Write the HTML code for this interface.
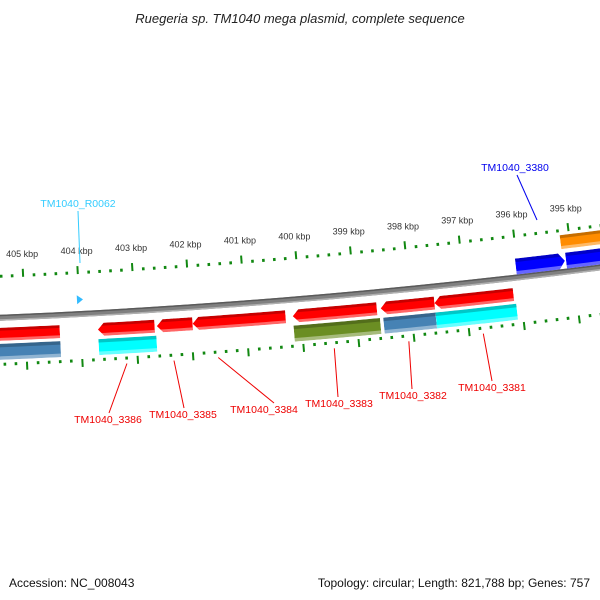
<!DOCTYPE html>
<html><head><meta charset="utf-8"><style>
html,body{margin:0;padding:0;background:#fff}
svg{display:block;font-family:"Liberation Sans","DejaVu Sans",sans-serif}
</style></head><body>
<svg id="map" width="600" height="600" viewBox="0 0 600 600">
<text x="300" y="23" text-anchor="middle" font-size="13" font-style="italic" fill="#222">Ruegeria sp. TM1040 mega plasmid, complete sequence</text>
<text x="9" y="587" font-size="12" fill="#111">Accession: NC_008043</text>
<text x="590" y="587" font-size="12" fill="#111" text-anchor="end">Topology: circular; Length: 821,788 bp; Genes: 757</text>
<g id="layer"></g>
</svg>
<script>
// data (kbp)
const tickKbp = [394,395,396,397,398,399,400,401,402,403,404,405,406];
const labeledKbp = [395,396,397,398,399,400,401,402,403,404,405];
const featNames = ["f3386a","cds3386","cds3385","cds3384","cds3383","cds3382","cds3381","rna3386","rna3386b","rna3383","rna3382","rna3381","cds3380","cds3379","orange3379"];
const featStart = [404.38,402.66,401.97,400.28,398.62,397.57,396.13,404.38,402.64,398.58,397.57,396.10,395.13,393.0,393.0];
const featEnd   = [406.5,403.69,402.62,401.97,400.15,398.55,397.57,406.5,403.69,400.15,398.52,397.57,396.03,395.11,395.17];
const featLane  = ["r1","r1","r1","r1","r1","r1","r1","r2","r2","r2","r2","r2","u1","u1","u2"];
const featDir   = ["none","left","left","left","left","left","left","none","none","none","none","none","right","none","none"];
const featColor = ["#ff0000","#ff0000","#ff0000","#ff0000","#ff0000","#ff0000","#ff0000","#4682b4","#00ffff","#6b8e23","#4682b4","#00ffff","#0000ff","#0000ff","#ff8c00"];
const labelText = ["TM1040_3386","TM1040_3385","TM1040_3384","TM1040_3383","TM1040_3382","TM1040_3381","TM1040_3380","TM1040_R0062"];
const labelKbp  = [403.2,402.35,401.55,399.45,398.1,396.75,395.5,404.0];

const L=821.788, BP0=410.85, R=7150, CX=-297, CY=324-7150;
const K=2*Math.PI/L*1.007;
function P(kbp,off){const r=R+off,a=(BP0-kbp)*K;return [CX+r*Math.sin(a),CY+r*Math.cos(a)];}
const lanes={r1:[10,23],r2:[26,42],u1:[-19,-3],u2:[-37,-23]};
const NS="http://www.w3.org/2000/svg";
const layer=document.getElementById('layer');
function mk(t,a){const e=document.createElementNS(NS,t);for(const k in a)e.setAttribute(k,a[k]);layer.appendChild(e);return e;}
function arc(k1,k2,off){const pts=[];const n=24;for(let i=0;i<=n;i++){pts.push(P(k1+(k2-k1)*i/n,off));}return pts;}
function ptsStr(p){return p.map(q=>q[0].toFixed(2)+","+q[1].toFixed(2)).join(" ");}
function bandPts(lo,hi,o1,o2,dir){
  const h=0.11, mid=(o1+o2)/2;
  let a=lo,b=hi;
  if(dir==="left")b=hi-h;
  if(dir==="right")a=lo+h;
  let pts=arc(a,b,o1);
  if(dir==="left")pts.push(P(hi,mid));
  pts=pts.concat(arc(b,a,o2));
  if(dir==="right")pts.push(P(lo,mid));
  return pts;
}
// backbone
const bb=mk('polygon',{points:ptsStr(arc(392,412,-3).concat(arc(412,392,3))),fill:'#808080'});


const bbt=mk('polygon',{points:ptsStr(arc(392,412,-3).concat(arc(412,392,-1.5))),fill:'#5a5a5a'});


const bbb=mk('polygon',{points:ptsStr(arc(392,412,1.5).concat(arc(412,392,3))),fill:'#b0b0b0'});


// features
const defs=mk('defs',{});
featNames.forEach((nm,i)=>{
  const ln=lanes[featLane[i]];
  const o1=ln[0],o2=ln[1];
  const pts=bandPts(featStart[i],featEnd[i],o1,o2,featDir[i]);
  const cp=document.createElementNS(NS,'clipPath');cp.setAttribute('id','c'+i);
  const cpp=document.createElementNS(NS,'polygon');cpp.setAttribute('points',ptsStr(pts));cp.appendChild(cpp);defs.appendChild(cp);
  const g=mk('g',{'clip-path':'url(#c'+i+')'});
  
  
  const body=document.createElementNS(NS,'polygon');body.setAttribute('points',ptsStr(pts));body.setAttribute('fill',featColor[i]);g.appendChild(body);
  const w=o2-o1;
  const top=document.createElementNS(NS,'polygon');
  top.setAttribute('points',ptsStr(arc(featStart[i]-1,featEnd[i]+1,o1-1).concat(arc(featEnd[i]+1,featStart[i]-1,o1+w*0.22))));
  top.setAttribute('fill','#000');top.setAttribute('opacity','0.22');g.appendChild(top);
  const bot=document.createElementNS(NS,'polygon');
  bot.setAttribute('points',ptsStr(arc(featStart[i]-1,featEnd[i]+1,o2-w*0.22).concat(arc(featEnd[i]+1,featStart[i]-1,o2+1))));
  bot.setAttribute('fill','#fff');bot.setAttribute('opacity','0.4');g.appendChild(bot);
});
// rRNA small triangle
const tri=mk('polygon',{points:ptsStr([P(404.04,-19),P(403.93,-14.5),P(404.04,-10)]),fill:'#33bbff'});


// ticks
function ring(base,sign,nm){
  for(let k=tickKbp[0]*5;k<=tickKbp[tickKbp.length-1]*5;k++){
    const kb=k/5; const major=(k%5===0);
    const len=major?8:3;
    const p1=P(kb,base),p2=P(kb,base+sign*len);
    const t=mk('line',{x1:p1[0],y1:p1[1],x2:p2[0],y2:p2[1],stroke:'#118811','stroke-width':major?2:2.6});
    
    
  }
}
ring(-40,-1,'inner-ruler');
ring(45,1,'outer-ruler');
labeledKbp.forEach(kb=>{
  const p=P(kb,-63);
  const t=mk('text',{x:p[0],y:p[1]+3,'text-anchor':'middle','font-size':'9',fill:'#333'});
  t.textContent=kb+' kbp';
  
  
});
// gene labels
const labelPos=[[108,423,109,413],[183,418,184,408],[264,413,274,403],[339,407,338,397],[413,399,412,389],[492,391,492,381],[515,171,537,220],[78,207,80,263]];
labelText.forEach((s,i)=>{
  const lp=labelPos[i];
  const isRed=i<6;
  const col=i===6?'#0000ee':(i===7?'#33ccff':'#ee0000');
  let start;
  if(isRed){start=P(labelKbp[i],52);}else if(i===6){start=[537,220];}else{start=[80,263];}
  const endy=isRed?lp[3]:lp[1]+4;
  const endx=lp[2];
  const ln=mk('line',{x1:start[0],y1:start[1],x2:isRed?endx:(i===6?517:78),y2:endy,stroke:col,'stroke-width':1});
  
  
  const t=mk('text',{x:lp[0],y:lp[1],'text-anchor':'middle','font-size':'10.5',fill:col});
  t.textContent=s;
  
  
});
</script>
</body></html>
